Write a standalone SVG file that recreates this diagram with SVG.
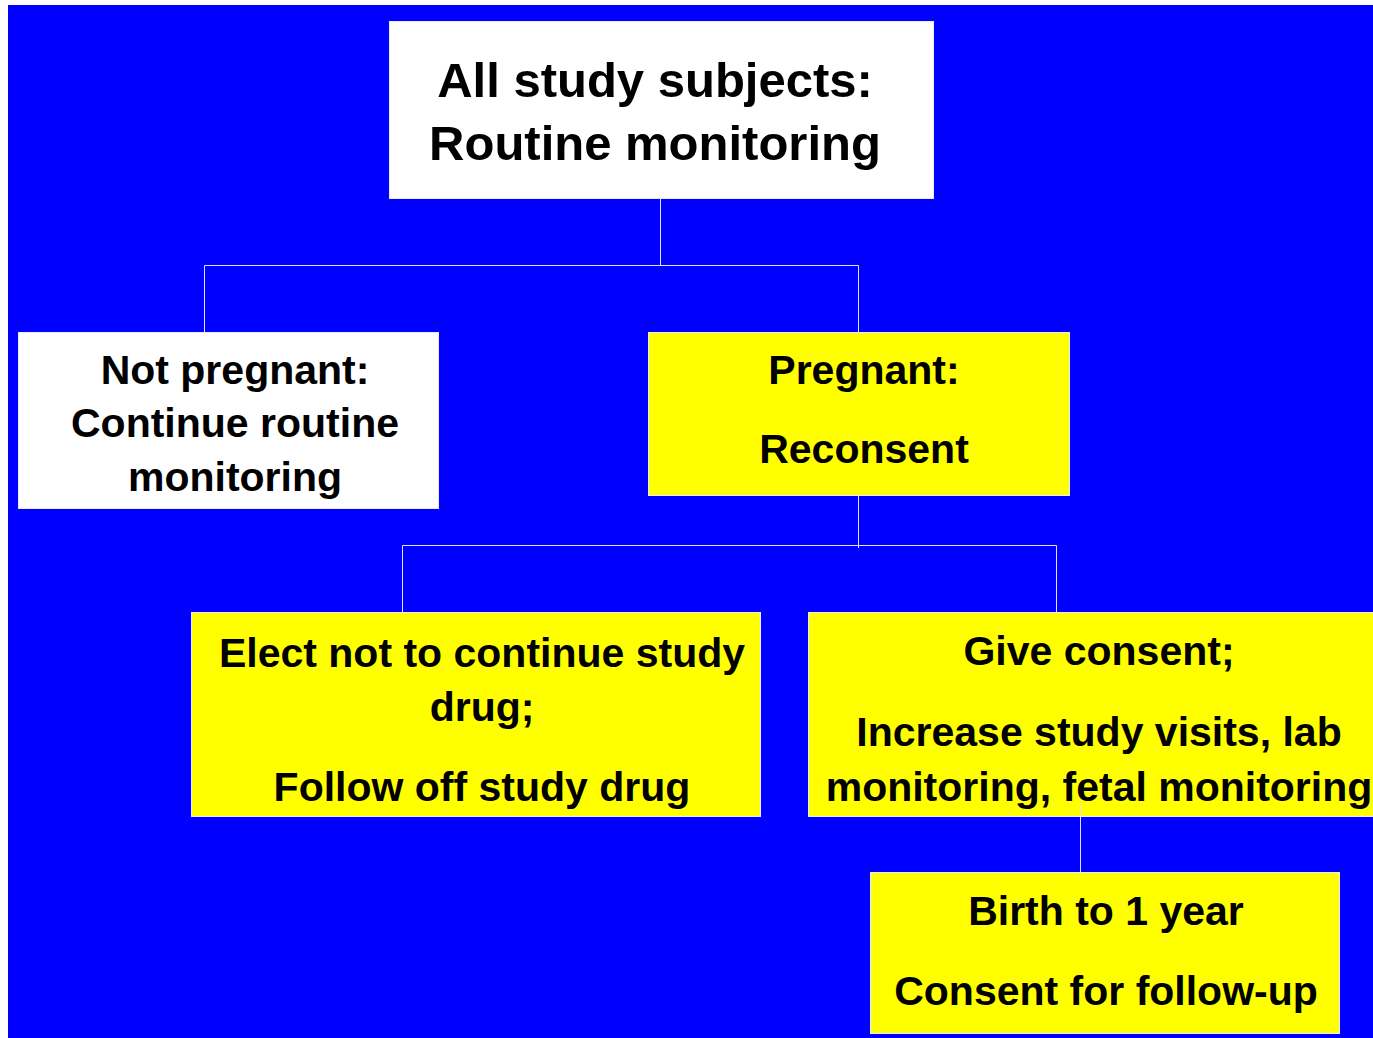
<svg xmlns="http://www.w3.org/2000/svg" width="1373" height="1038" viewBox="0 0 1373 1038">
<style>
.bg{fill:#0000ff}
.w{fill:#ffffff;stroke:#e8e8ff;stroke-width:1}
.y{fill:#ffff00;stroke:#e8e8ff;stroke-width:1}
.t{font-family:"Liberation Sans",Arial,sans-serif;font-weight:bold;fill:#000000;text-anchor:middle}
.t49{font-size:49px}
.t41{font-size:41px}
.c{stroke:#e0e0ff;stroke-width:1;fill:none}
</style>
<rect x="0" y="0" width="1373" height="1038" fill="#ffffff"/>
<rect class="bg" x="8" y="5" width="1365" height="1033"/>
<g id="connectors">
<path class="c" d="M660.5 198 V265.5 M204.5 332 V265.5 H858.5 V332"/>
<path class="c" d="M858.5 495 V548 M402.5 612 V545.5 H1056.5 V612"/>
<path class="c" d="M1080.5 804 V872"/>
</g>
<g id="node-all">
<rect class="w" x="389.5" y="21.5" width="544" height="177"/>
<text class="t t49" x="655" y="97">All study subjects:</text>
<text class="t t49" x="655" y="160">Routine monitoring</text>
</g>
<g id="node-notpregnant">
<rect class="w" x="18.5" y="332.5" width="420" height="176"/>
<text class="t t41" x="235" y="384">Not pregnant:</text>
<text class="t t41" x="235" y="437">Continue routine</text>
<text class="t t41" x="235" y="491">monitoring</text>
</g>
<g id="node-pregnant">
<rect class="y" x="648.5" y="332.5" width="421" height="163"/>
<text class="t t41" x="864" y="384">Pregnant:</text>
<text class="t t41" x="864" y="463">Reconsent</text>
</g>
<g id="node-elect">
<rect class="y" x="191.5" y="612.5" width="569" height="204"/>
<text class="t t41" x="482" y="667">Elect not to continue study</text>
<text class="t t41" x="482" y="721">drug;</text>
<text class="t t41" x="482" y="801">Follow off study drug</text>
</g>
<g id="node-consent">
<rect class="y" x="808.5" y="612.5" width="580" height="204"/>
<path class="c" d="M1080.5 804 V816"/>
<text class="t t41" x="1099" y="665">Give consent;</text>
<text class="t t41" x="1099" y="746">Increase study visits, lab</text>
<text class="t t41" x="1099" y="801">monitoring, fetal monitoring</text>
</g>
<g id="node-birth">
<rect class="y" x="870.5" y="872.5" width="469" height="161"/>
<text class="t t41" x="1106" y="925">Birth to 1 year</text>
<text class="t t41" x="1106" y="1005">Consent for follow-up</text>
</g>
</svg>
